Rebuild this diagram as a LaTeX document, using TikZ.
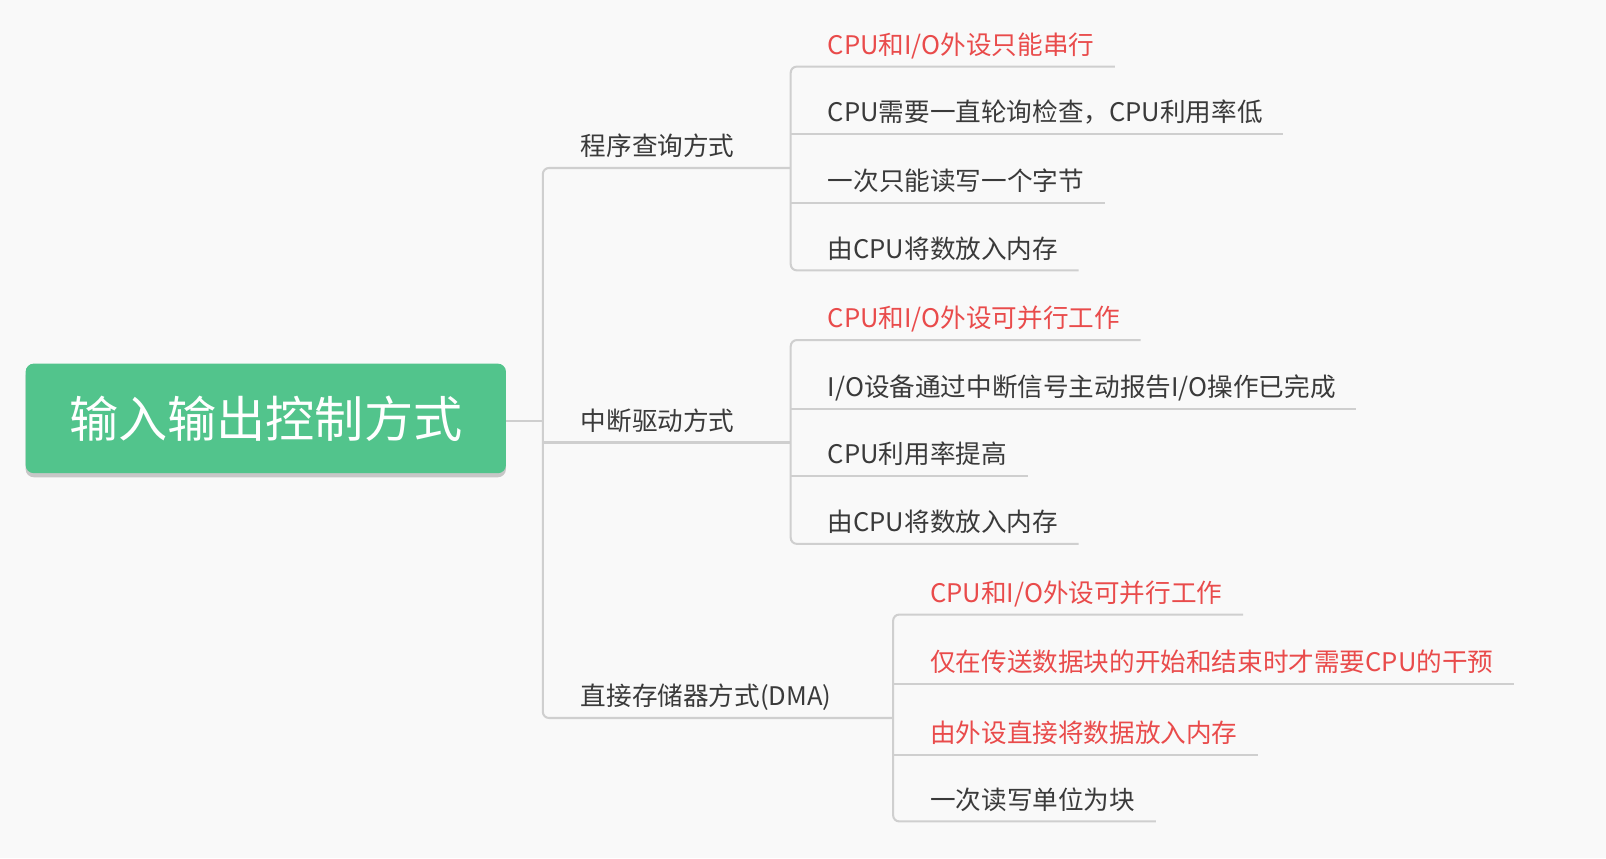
\documentclass[tikz,border=0pt]{standalone}
\usepackage{fontspec}
\setmainfont{Noto Sans CJK SC}
\usepackage{tikz}
\usetikzlibrary{positioning, calc, shadows}

\definecolor{rootgreen}{RGB}{82,196,140}
\definecolor{hotred}{RGB}{233,75,75}
\definecolor{txtgray}{RGB}{58,58,58}
\definecolor{linegray}{RGB}{207,207,207}
\definecolor{paper}{RGB}{249,249,249}

\begin{document}
\begin{tikzpicture}[x=1pt, y=-1pt,
	conn/.style={draw=linegray, line width=2pt},
	elbow/.style={conn, rounded corners=6pt},
	leaf/.style={anchor=base west, inner sep=0pt, text=txtgray, font=\fontsize{25}{30}\selectfont},
	hot/.style={leaf, text=hotred},
	topic/.style={leaf}]
	
	\fill[paper] (0,0) rectangle (1568,838);
	\useasboundingbox (0,0) rectangle (1568,838);
	
	%//root box
	\node [fill=rootgreen, rounded corners=8pt, minimum width=469pt, minimum height=107pt,
	text=white, font=\fontsize{48}{56}\selectfont,
	drop shadow={shadow xshift=0pt, shadow yshift=-4pt, opacity=0.2, fill=black}]
	(root) at (259.5,408.5) {输入输出控制方式};
	
	\coordinate (hub) at (530,411);
	\coordinate (s1) at (772,164);
	\coordinate (s2) at (772,432);
	\coordinate (s3) at (872,701);
	
	\draw[conn] (root.east |- hub) -- (hub);
	\draw[elbow] (s1) -- (hub |- s1) -- (hub |- s3) -- (s3);
	\draw[conn] (hub |- s2) -- (s2);
	
	\node [topic] (t1) at (567,152) {程序查询方式};
	\node [topic] (t2) at (567,420) {中断驱动方式};
	\node [topic] (t3) at (567,689) {直接存储器方式(DMA)};
	
	%//first group
	\foreach \i/\y/\st/\val in {1/65/hot/{CPU和I/O外设只能串行},2/131/leaf/{CPU需要一直轮询检查，CPU利用率低},3/198/leaf/{一次只能读写一个字节},4/264/leaf/{由CPU将数放入内存}}
	\node [\st] (a\i) at (808,\y-12) {\val};
	
	\draw[elbow] ([xshift=20pt]a1.east |- 0,65) -- (s1 |- 0,65) -- (s1 |- 0,264) -- ([xshift=20pt]a4.east |- 0,264);
	\draw[conn] (s1 |- 0,131) -- ([xshift=20pt]a2.east |- 0,131);
	\draw[conn] (s1 |- 0,198) -- ([xshift=20pt]a3.east |- 0,198);
	
	%//second group
	\foreach \i/\y/\st/\val in {1/332/hot/{CPU和I/O外设可并行工作},2/399/leaf/{I/O设备通过中断信号主动报告I/O操作已完成},3/465/leaf/{CPU利用率提高},4/531/leaf/{由CPU将数放入内存}}
	\node [\st] (b\i) at (808,\y-12) {\val};
	
	\draw[elbow] ([xshift=20pt]b1.east |- 0,332) -- (s2 |- 0,332) -- (s2 |- 0,531) -- ([xshift=20pt]b4.east |- 0,531);
	\draw[conn] (s2 |- 0,399) -- ([xshift=20pt]b2.east |- 0,399);
	\draw[conn] (s2 |- 0,465) -- ([xshift=20pt]b3.east |- 0,465);
	
	%//third group
	\foreach \i/\y/\st/\val in {1/600/hot/{CPU和I/O外设可并行工作},2/668/hot/{仅在传送数据块的开始和结束时才需要CPU的干预},3/737/hot/{由外设直接将数据放入内存},4/802/leaf/{一次读写单位为块}}
	\node [\st] (c\i) at (908,\y-12) {\val};
	
	\draw[elbow] ([xshift=20pt]c1.east |- 0,600) -- (s3 |- 0,600) -- (s3 |- 0,802) -- ([xshift=20pt]c4.east |- 0,802);
	\draw[conn] (s3 |- 0,668) -- ([xshift=20pt]c2.east |- 0,668);
	\draw[conn] (s3 |- 0,737) -- ([xshift=20pt]c3.east |- 0,737);
	
\end{tikzpicture}
\end{document}
